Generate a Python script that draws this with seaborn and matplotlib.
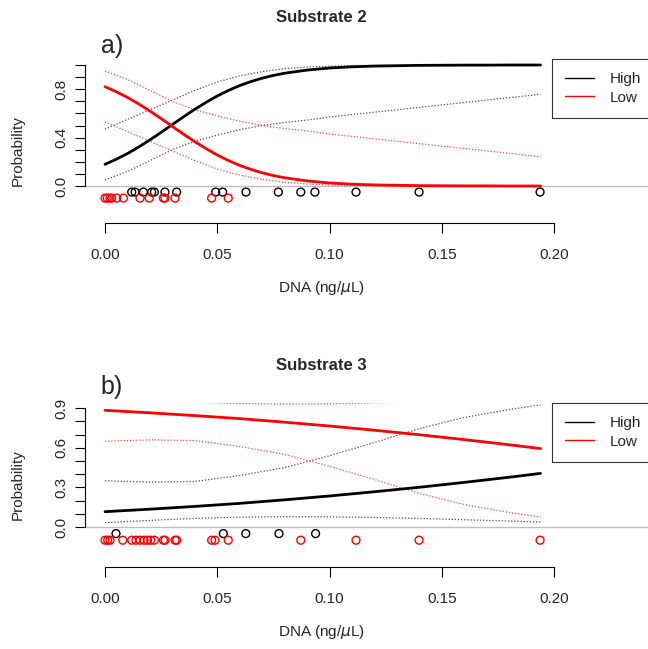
import numpy as np
import matplotlib
matplotlib.use("Agg")
import matplotlib.pyplot as plt
import seaborn as sns
from matplotlib.lines import Line2D

sns.set_theme(style="white")
plt.rcParams['font.family'] = ['Liberation Sans', 'DejaVu Sans']

# ---- Substrate 2 (panel a) : fitted probabilities
fit_dna_a = [0, .005, .01, .015, .02, .025, .03, .035, .04, .045, .05, .055, .06, .065,
             .07, .075, .08, .09, .10, .11, .12, .13, .14, .15, .16, .17, .18, .19, .194]
high_a = [0.179, 0.221, 0.268, 0.322, 0.381, 0.443, 0.508, 0.572, 0.634, 0.691, 0.744,
          0.790, 0.830, 0.863, 0.891, 0.914, 0.932, 0.958, 0.975, 0.985, 0.991, 0.994,
          0.997, 0.998, 0.999, 0.999, 1.0, 1.0, 1.0]
low_a = [0.821, 0.779, 0.732, 0.678, 0.619, 0.557, 0.492, 0.428, 0.366, 0.309, 0.256,
         0.210, 0.170, 0.137, 0.109, 0.086, 0.068, 0.042, 0.025, 0.015, 0.009, 0.006,
         0.003, 0.002, 0.001, 0.001, 0.0, 0.0, 0.0]

band_dna_a = [0, .01, .02, .03, .04, .05, .06, .07, .08, .09, .10,
              .11, .12, .13, .14, .15, .16, .17, .18, .19, .194]
high_a_lo = [0.05, 0.12, 0.21, 0.30, 0.37, 0.42, 0.465, 0.50, 0.525, 0.545, 0.57,
             0.59, 0.61, 0.63, 0.65, 0.67, 0.69, 0.71, 0.73, 0.75, 0.76]
high_a_hi = [0.47, 0.55, 0.63, 0.71, 0.79, 0.86, 0.91, 0.945, 0.97, 0.983, 0.99,
             0.995, 0.997, 0.998, 0.999, 0.999, 1.0, 1.0, 1.0, 1.0, 1.0]
low_a_lo = [0.53, 0.45, 0.37, 0.29, 0.21, 0.14, 0.09, 0.055, 0.03, 0.017, 0.01,
            0.005, 0.003, 0.002, 0.001, 0.001, 0.0, 0.0, 0.0, 0.0, 0.0]
low_a_hi = [0.95, 0.88, 0.79, 0.70, 0.63, 0.58, 0.535, 0.50, 0.475, 0.455, 0.43,
            0.41, 0.39, 0.37, 0.35, 0.33, 0.31, 0.29, 0.27, 0.25, 0.24]

# observed samples, panel a
obs_high_a = [0.0119, 0.0134, 0.0171, 0.0208, 0.0220, 0.0267, 0.0319, 0.0493, 0.0524,
              0.0628, 0.0772, 0.0872, 0.0935, 0.1118, 0.1399, 0.1938]
obs_low_a = [0.0, 0.001, 0.0022, 0.003, 0.0052, 0.0082, 0.0156, 0.0197, 0.026,
             0.0267, 0.0312, 0.0475, 0.0549]

# ---- Substrate 3 (panel b)
dna_b = [0, .02, .04, .06, .08, .10, .12, .14, .16, .18, .194]
high_b = [0.116, 0.135, 0.156, 0.179, 0.206, 0.235, 0.267, 0.301, 0.338, 0.377, 0.406]
high_b_lo = [0.033, 0.05, 0.065, 0.075, 0.078, 0.077, 0.072, 0.065, 0.055, 0.045, 0.037]
high_b_hi = [0.35, 0.34, 0.345, 0.39, 0.45, 0.54, 0.64, 0.745, 0.83, 0.89, 0.925]
low_b = [0.884, 0.865, 0.844, 0.821, 0.794, 0.765, 0.733, 0.699, 0.662, 0.623, 0.594]
low_b_lo = [0.65, 0.66, 0.655, 0.61, 0.55, 0.46, 0.36, 0.255, 0.17, 0.11, 0.075]
low_b_hi = [0.967, 0.955, 0.945, 0.935, 0.932, 0.933, 0.941, 0.947, 0.953, 0.96, 0.963]

obs_high_b = [0.0049, 0.0527, 0.0627, 0.0775, 0.0938]
obs_low_b = [0.0, 0.0012, 0.0022, 0.0079, 0.0119, 0.0138, 0.0156, 0.0174, 0.0189, 0.0204,
             0.022, 0.026, 0.0267, 0.0312, 0.0319, 0.0475, 0.049, 0.0549, 0.0872,
             0.1118, 0.1399, 0.1938]

W, H = 648, 649
fig = plt.figure(figsize=(W / 100, H / 100), dpi=100)


def panel(top, bottom, y0, ppu, ymax_tick, ylabels, title, letter, title_y, letter_y, ylab_y,
          fit_dna, hi, lo, band_dna, hi_lo, hi_hi, lo_lo, lo_hi, obs_hi, obs_lo):
    left, right = 85, 557.5
    ax = fig.add_axes([left / W, 1 - bottom / H, (right - left) / W, (bottom - top) / H])
    ax.set_xlim(-(105 - left) / 2245, (right - 105) / 2245)
    ax.set_ylim(-(bottom - y0) / ppu, (y0 - top) / ppu)

    ax.axhline(0, xmin=0, xmax=(W - left) / (right - left), color='#bebebe', lw=1, clip_on=False)

    for y, c in [(hi_lo, 'black'), (hi_hi, 'black'), (lo_lo, 'red'), (lo_hi, 'red')]:
        sns.lineplot(x=band_dna, y=y, ax=ax, color=c, lw=0.9, linestyle=(0, (1, 1.5)), alpha=0.7)
    sns.lineplot(x=fit_dna, y=hi, ax=ax, color='black', lw=2)
    sns.lineplot(x=fit_dna, y=lo, ax=ax, color='red', lw=2)

    sns.scatterplot(x=obs_hi, y=[-0.05] * len(obs_hi), ax=ax, s=32, facecolor='none',
                    edgecolor='black', linewidth=1, clip_on=False)
    sns.scatterplot(x=obs_lo, y=[-0.1] * len(obs_lo), ax=ax, s=32, facecolor='none',
                    edgecolor='red', linewidth=1, clip_on=False)

    for s in ['top', 'right']:
        ax.spines[s].set_visible(False)
    for s in ['left', 'bottom']:
        ax.spines[s].set_color('black')
        ax.spines[s].set_linewidth(0.8)
    ax.spines['left'].set_bounds(0, ymax_tick)
    ax.spines['bottom'].set_bounds(0, 0.2)

    yt = np.round(np.arange(0, ymax_tick + 0.001, 0.1), 1)
    ax.set_yticks(yt)
    ax.set_yticklabels([f"{v:.1f}" if round(v, 1) in ylabels else "" for v in yt],
                       rotation=90, va='center')
    ax.set_xticks([0, 0.05, 0.10, 0.15, 0.20])
    ax.set_xticklabels(["0.00", "0.05", "0.10", "0.15", "0.20"])
    ax.tick_params(axis='both', direction='out', length=7, width=0.8, color='black',
                   labelsize=11, left=True, bottom=True)
    ax.tick_params(axis='x', pad=11)
    ax.tick_params(axis='y', pad=5)
    ax.set_xlabel("DNA (ng/$\\mu$L)", fontsize=11, labelpad=12)
    ax.set_ylabel("")
    fig.text(17.5 / W, 1 - ylab_y / H, "Probability", rotation=90, ha='center', va='center',
             fontsize=11)

    leg = ax.legend(handles=[Line2D([], [], color='black', lw=1), Line2D([], [], color='red', lw=1)],
                    labels=['High', 'Low'], loc='upper left',
                    bbox_to_anchor=(552 / W, 1 - top / H), bbox_transform=fig.transFigure,
                    fontsize=11, frameon=True, fancybox=False, handlelength=1.9,
                    handletextpad=1.0, borderpad=0.85, labelspacing=0.3, borderaxespad=0)
    leg.get_frame().set_edgecolor('black')
    leg.get_frame().set_linewidth(0.8)

    fig.text(321 / W, 1 - title_y / H, title, ha='center', va='center', fontsize=12,
             fontweight='bold')
    fig.text(112 / W, 1 - letter_y / H, letter, ha='center', va='center', fontsize=18)
    return ax


panel(59, 223, 186, 121, 1.0, [0.0, 0.4, 0.8], "Substrate 2", "a)", 18, 46, 151,
      fit_dna_a, high_a, low_a, band_dna_a, high_a_lo, high_a_hi, low_a_lo, low_a_hi,
      obs_high_a, obs_low_a)
panel(403, 567, 527, 132, 0.9, [0.0, 0.3, 0.6, 0.9], "Substrate 3", "b)", 365, 387, 485,
      dna_b, high_b, low_b, dna_b, high_b_lo, high_b_hi, low_b_lo, low_b_hi,
      obs_high_b, obs_low_b)

fig.savefig("out.png", dpi=100)
